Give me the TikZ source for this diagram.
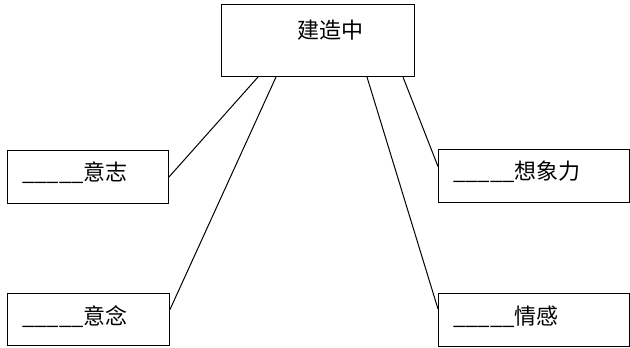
\documentclass[tikz,border=0pt]{standalone}
\usepackage{fontspec}
\newfontfamily\cjk{Noto Sans CJK SC}
\tikzset{
  box/.style={draw=black, line width=1pt, rectangle, anchor=north west, inner sep=0pt},
  labeltext/.style={font=\cjk\fontsize{22}{26}\selectfont, inner sep=0pt},
  link/.style={draw=black, line width=1pt}
}
\begin{document}
\begin{tikzpicture}[x=1pt, y=-1pt]
\useasboundingbox (0,0) rectangle (630,348);
\node[box, minimum width=193pt, minimum height=72pt] (top) at (221,4) {};
\node[labeltext] (toptext) at (330,30) {建造中};
\node[box, minimum width=161pt, minimum height=53pt] (l1) at (7,150) {};
\node[box, minimum width=162pt, minimum height=52pt] (l2) at (7,293) {};
\node[box, minimum width=191pt, minimum height=53pt] (r1) at (438,149) {};
\node[box, minimum width=191pt, minimum height=53pt] (r2) at (438,293) {};
\node[labeltext, anchor=west] (l1t) at (22,173) {\_\_\_\_\_意志};
\node[labeltext, anchor=west] (l2t) at (22,317) {\_\_\_\_\_意念};
\node[labeltext, anchor=west] (r1t) at (453,172) {\_\_\_\_\_想象力};
\node[labeltext, anchor=west] (r2t) at (453,317) {\_\_\_\_\_情感};
\draw[link] ([xshift=37pt]top.south west) -- (l1.east);
\draw[link] ([xshift=55pt]top.south west) -- ([yshift=10pt]l2.east);
\draw[link] ([xshift=146pt]top.south west) -- ([yshift=11pt]r2.west);
\draw[link] ([xshift=182pt]top.south west) -- ([yshift=9.5pt]r1.west);
\end{tikzpicture}
\end{document}
